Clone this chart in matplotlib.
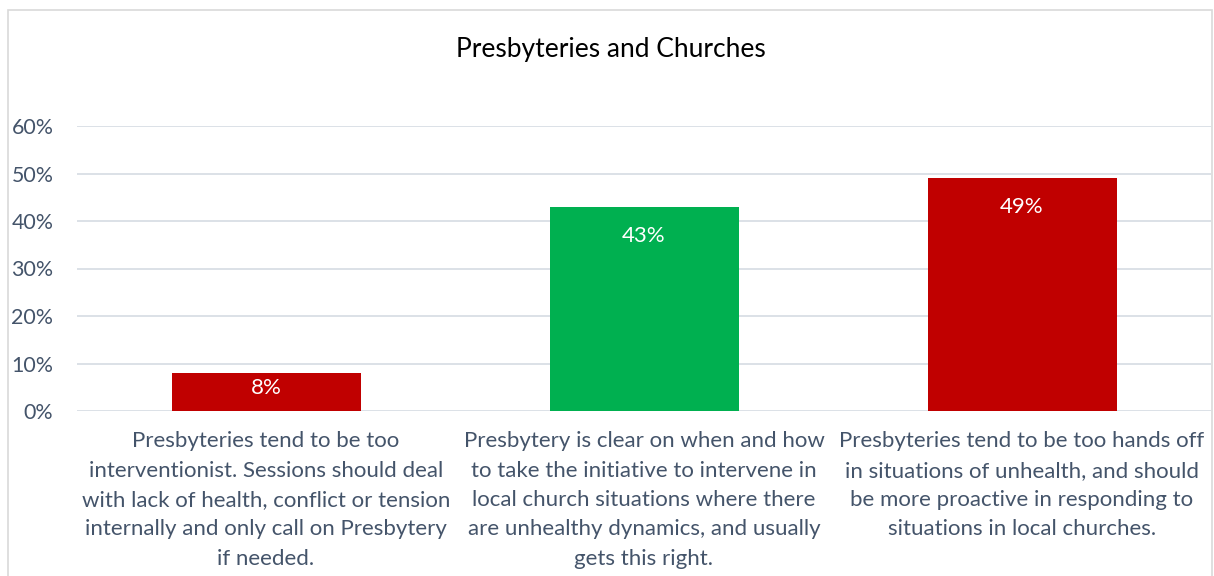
import matplotlib
matplotlib.use("Agg")
import matplotlib.pyplot as plt
from matplotlib.patches import Rectangle
from matplotlib.ticker import PercentFormatter

# chart data
categories = [
    "Presbyteries tend to be too\ninterventionist. Sessions should deal\nwith lack of health, conflict or tension\ninternally and only call on Presbytery\nif needed.",
    "Presbytery is clear on when and how\nto take the initiative to intervene in\nlocal church situations where there\nare unhealthy dynamics, and usually\ngets this right.",
    "Presbyteries tend to be too hands off\nin situations of unhealth, and should\nbe more proactive in responding to\nsituations in local churches.",
]
values = [0.08, 0.43, 0.49]
bar_colors = ["#C00000", "#00B050", "#C00000"]
title = "Presbyteries and Churches"

text_color = "#44546A"
grid_color = "#D9DEE5"

plt.rcParams['font.family'] = ['Lato', 'DejaVu Sans']

W, H = 1214, 576
fig = plt.figure(figsize=(W / 100, H / 100), dpi=100)

# chart border
fig.patches.append(Rectangle((8 / W, -0.01), (1211.5 - 8) / W, 1 - 9.5 / H + 0.01,
                             transform=fig.transFigure, fill=False,
                             edgecolor="#D9D9D9", linewidth=1.2))

# plot area
left, right, top, bottom = 77, 1211, 126, 411
ax = fig.add_axes((left / W, 1 - bottom / H, (right - left) / W, (bottom - top) / H))

x = list(range(len(values)))
ax.bar(x, values, width=0.5, color=bar_colors, zorder=2)

ax.set_xlim(-0.5, len(values) - 0.5)
ax.set_ylim(0, 0.6)
ax.set_yticks([0, 0.1, 0.2, 0.3, 0.4, 0.5, 0.6])
ax.yaxis.set_major_formatter(PercentFormatter(1.0, decimals=0))
ax.grid(axis="y", color=grid_color, linewidth=1.3, zorder=0)
ax.tick_params(axis="y", length=0, pad=17, labelsize=15.4, labelcolor=text_color)
ax.set_xticks([])
for s in ax.spines.values():
    s.set_visible(False)

# data labels inside end of bars
for xi, v in zip(x, values):
    y = v - min(0.061, v * 0.4)
    ax.text(xi, y, f"{v:.0%}", ha="center", va="center", color="white", fontsize=16)

# category labels under the bars
for xi, lab in zip(x, categories):
    ax.text(xi, -0.043, lab, ha="center", va="top", color=text_color,
            fontsize=16, linespacing=1.58, clip_on=False)

fig.text(611 / W, 1 - 49 / H, title, ha="center", va="center", fontsize=19, color="black")

fig.savefig("out.png", dpi=100)
